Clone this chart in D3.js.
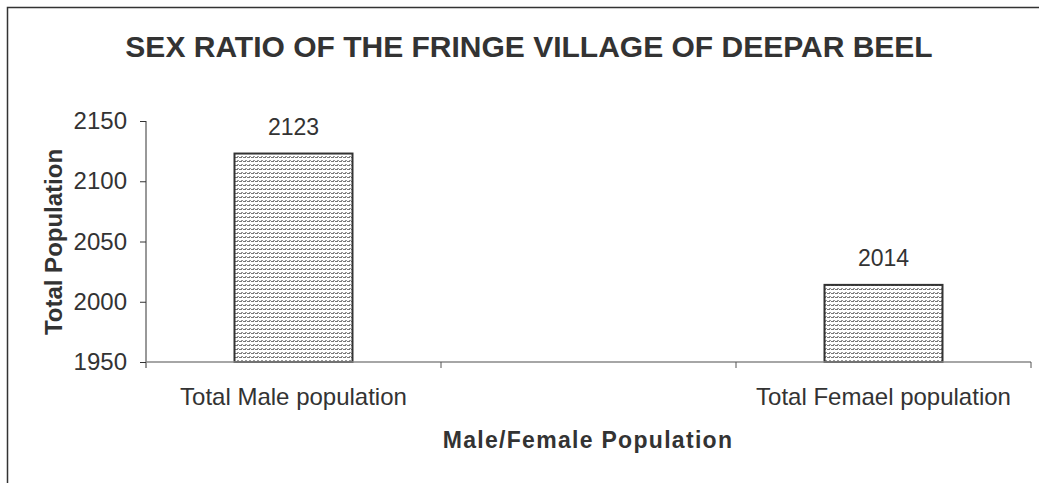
<!DOCTYPE html>
<html><head><meta charset="utf-8">
<script src="https://cdn.jsdelivr.net/npm/d3@7"></script>
<style>body{margin:0;background:#fff}svg{display:block}text{font-family:"Liberation Sans",Arial,sans-serif;fill:#333}</style>
</head><body><svg id="c" width="1039" height="483"></svg>
<script>
const categories = ["Total Male population", "", "Total Femael population"];
const values = [2123, null, 2014];
const yTicks = [1950, 2000, 2050, 2100, 2150];
const title = "SEX RATIO OF THE FRINGE VILLAGE OF DEEPAR BEEL";
const xTitle = "Male/Female Population";
const yTitle = "Total Population";

const svg = d3.select("#c");
const defs = svg.append("defs");
const pat = defs.append("pattern").attr("id","hatch").attr("patternUnits","userSpaceOnUse")
  .attr("width",4).attr("height",4);
pat.append("rect").attr("width",4).attr("height",4).attr("fill","#fff");
[[1,0],[2,0],[0,1],[1,1],[3,1]].forEach(([px,py])=>{
  pat.append("rect").attr("x",px).attr("y",py).attr("width",1).attr("height",1)
    .attr("fill", py===0 ? "#999" : "#777");
});

// outer border
svg.append("rect").attr("x",7.5).attr("y",7.5).attr("width",1100).attr("height",600)
  .attr("fill","none").attr("stroke","#333").attr("stroke-width",1.5);

const x = d3.scaleBand().domain(categories.map((c,i)=>i)).range([146,1031]).paddingInner(0).paddingOuter(0);
const y = d3.scaleLinear().domain([1950,2150]).range([362,121]);

svg.append("text").attr("x",529).attr("y",57).attr("text-anchor","middle")
  .attr("font-size",30).attr("font-weight","bold").text(title);

// bars
const bw = x.bandwidth()*0.4;
const data = categories.map((c,i)=>({i,c,v:values[i]})).filter(d=>d.v!=null);
svg.selectAll("rect.bar").data(data).enter().append("rect").attr("class","bar")
  .attr("x",d=>x(d.i)+x.bandwidth()/2-bw/2).attr("width",bw)
  .attr("y",d=>y(d.v)).attr("height",d=>y(1950)-y(d.v))
  .attr("fill","url(#hatch)").attr("stroke","#333").attr("stroke-width",2);
svg.selectAll("text.val").data(data).enter().append("text").attr("class","val")
  .attr("x",d=>x(d.i)+x.bandwidth()/2).attr("y",d=>y(d.v)-19)
  .attr("text-anchor","middle").attr("font-size",23).text(d=>d.v);

// y axis
const ya = svg.append("g").attr("transform","translate(146,0)")
  .call(d3.axisLeft(y).tickValues(yTicks).tickSize(6).tickPadding(13).tickFormat(d3.format("d")));
ya.select(".domain").attr("stroke","#333").attr("d","M0,121V368");
ya.selectAll(".tick line").attr("stroke","#333");
ya.selectAll(".tick text").attr("font-size",24).attr("fill","#333").attr("font-family","Liberation Sans, Arial, sans-serif");

// x axis
const xa = svg.append("g").attr("transform","translate(0,362)");
xa.append("line").attr("x1",146).attr("x2",1031).attr("stroke","#888").attr("stroke-width",1.5);
xa.selectAll("line.t").data(categories.map((c,i)=>i)).enter().append("line").attr("class","t")
  .attr("x1",d=>x(d)+x.bandwidth()).attr("x2",d=>x(d)+x.bandwidth())
  .attr("y1",0).attr("y2",6).attr("stroke","#555");
xa.selectAll("text").data(categories.map((c,i)=>({c,i}))).enter().append("text")
  .attr("x",d=>x(d.i)+x.bandwidth()/2).attr("y",43).attr("text-anchor","middle")
  .attr("font-size",24).text(d=>d.c);

svg.append("text").attr("x",588).attr("y",448).attr("text-anchor","middle")
  .attr("font-size",23).attr("font-weight","bold").attr("letter-spacing",1.3).text(xTitle);
svg.append("text").attr("transform","translate(62,242) rotate(-90)").attr("text-anchor","middle")
  .attr("font-size",24).attr("font-weight","bold").text(yTitle);
</script></body></html>
